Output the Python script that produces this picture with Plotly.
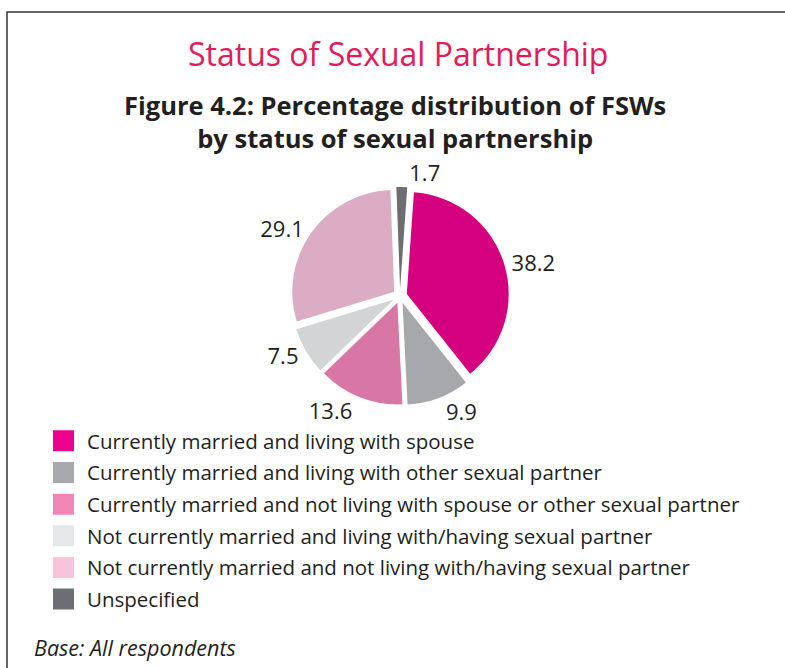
import plotly.graph_objects as go

categories = [
    "Currently married and living with spouse",
    "Currently married and living with other sexual partner",
    "Currently married and not living with spouse or other sexual partner",
    "Not currently married and living with/having sexual partner",
    "Not currently married and not living with/having sexual partner",
    "Unspecified",
]
values = [38.2, 9.9, 13.6, 7.5, 29.1, 1.7]
slice_colors = ["#D4007F", "#A7A8AB", "#D877A5", "#D3D4D6", "#DBACC3", "#6D6E72"]
legend_colors = ["#EC008C", "#A7A9AC", "#F287B7", "#E6E7E8", "#F7C4DB", "#6D6E71"]

W, H = 785, 668
FONT = "Open Sans"
DARK = "#231F20"

fig = go.Figure()

fig.add_trace(go.Pie(
    labels=categories,
    values=values,
    sort=False,
    direction="clockwise",
    rotation=4,
    pull=[0.07] * len(values),
    marker=dict(colors=slice_colors, line=dict(width=0)),
    textinfo="value",
    texttemplate="%{value:.1f}",
    textposition="outside",
    outsidetextfont=dict(size=22, color=DARK, family=FONT),
    showlegend=False,
    hoverinfo="label+value",
    domain=dict(x=[291 / W, 509 / W], y=[1 - 405 / H, 1 - 187 / H]),
))

for i, (cat, col) in enumerate(zip(categories, legend_colors)):
    fig.add_trace(go.Scatter(
        x=[None], y=[None], mode="markers", name=cat,
        legendgroup=f"g{i}",
        marker=dict(symbol="square", size=16, color=col,
                    line=dict(color=col, width=5)),
        showlegend=True,
    ))

fig.update_layout(
    width=W, height=H,
    margin=dict(l=0, r=0, t=0, b=0),
    paper_bgcolor="white",
    plot_bgcolor="white",
    xaxis=dict(visible=False),
    yaxis=dict(visible=False),
    font=dict(family=FONT, color=DARK),
    legend=dict(
        x=40 / W, y=1 - 421 / H, xanchor="left", yanchor="top",
        font=dict(size=20.5, color=DARK, family=FONT),
        tracegroupgap=2,
        itemsizing="trace",
        itemwidth=37,
        bgcolor="rgba(0,0,0,0)",
    ),
    shapes=[dict(
        type="rect", xref="paper", yref="paper",
        x0=7 / W, x1=1.05, y0=-0.05, y1=1 - 12 / H,
        line=dict(color="#333333", width=1.5),
    )],
    annotations=[
        dict(text="Status of Sexual Partnership", x=398 / W, y=1 - 53 / H,
             xref="paper", yref="paper", showarrow=False,
             xanchor="center", yanchor="middle",
             font=dict(size=32, color="#E31B5B", family=FONT)),
        dict(text="<b>Figure 4.2: Percentage distribution of FSWs<br>by status of sexual partnership</b>",
             x=395 / W, y=1 - 121 / H, xref="paper", yref="paper", showarrow=False,
             xanchor="center", yanchor="middle",
             font=dict(size=25.5, color=DARK, family=FONT)),
        dict(text="<i>Base: All respondents</i>", x=32 / W, y=1 - 647 / H,
             xref="paper", yref="paper", showarrow=False,
             xanchor="left", yanchor="middle",
             font=dict(size=21.5, color=DARK, family=FONT)),
    ],
)

fig.write_html("out.html", config={"displayModeBar": False},
               post_script="document.body.style.margin='0px';")
